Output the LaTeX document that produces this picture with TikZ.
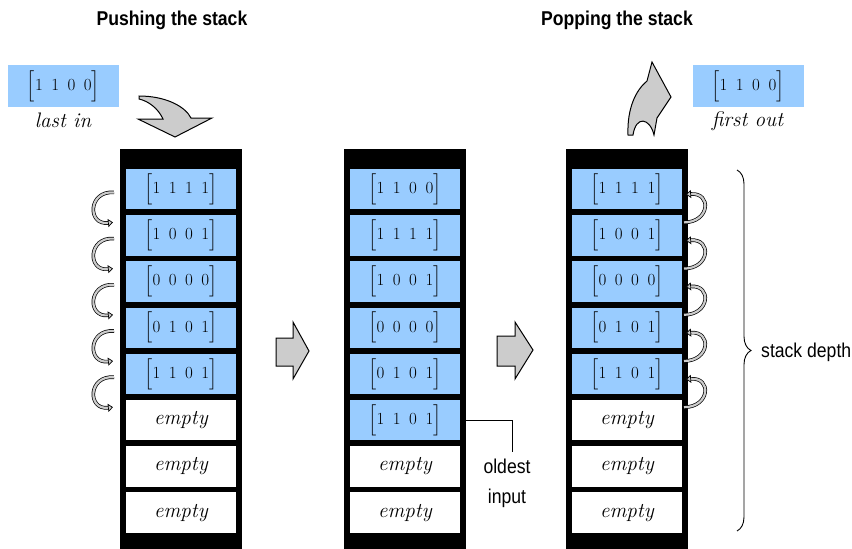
\RequirePackage{fix-cm}
\documentclass[tikz,border=0pt]{standalone}
\usepackage{amsmath}
\usepackage{fontspec}
\usepackage{tikz}
\usetikzlibrary{arrows.meta,positioning,decorations.pathreplacing}
\newfontfamily\condfont[FakeStretch=0.88]{Liberation Sans}
\definecolor{cellblue}{RGB}{153,204,255}
\definecolor{arrgray}{RGB}{204,204,204}
\newcommand{\bits}[4]{$\left[\vrule height 19pt depth 9pt width 0pt #1\enspace #2\enspace #3\enspace #4\right]$}

\begin{document}
\begin{tikzpicture}[
  x=1pt, y=-1pt,
  stackbox/.style={fill=black, minimum width=122pt, minimum height=400pt,
    inner sep=0pt, outer sep=0pt},
  cell/.style={fill=cellblue, minimum width=110pt, minimum height=40.4pt,
    inner sep=0pt, outer sep=0pt, font=\fontsize{17}{20}\selectfont},
  freecell/.style={cell, fill=white, font=\fontsize{21}{24}\selectfont\itshape},
  tagbox/.style={fill=cellblue, minimum width=111pt, minimum height=42pt,
    inner sep=0pt, font=\fontsize{17}{20}\selectfont},
  lbl/.style={font=\fontsize{21}{24}\selectfont\itshape, inner sep=0pt},
  title/.style={font=\condfont\bfseries\fontsize{20}{24}\selectfont, inner sep=0pt},
  note/.style={font=\condfont\fontsize{20}{30}\selectfont, inner sep=0pt, align=center},
  bigarr/.style={fill=arrgray, draw=black, line width=1pt, line join=miter},
  smallarr/.style={draw=black, line width=0.7pt, double=arrgray, double distance=2.2pt,
    -{Triangle[length=5pt, width=8pt, fill=arrgray]}}
]
\useasboundingbox (0,0) rectangle (852,549);

% titles
\node[title, anchor=base] (pushtitle) at (172,25) {Pushing the stack};
\node[title, anchor=base] (poptitle) at (617,25.5) {Popping the stack};

% pushing
\node[tagbox] (lastin) at (63.5,86) {\bits1100};
\node[lbl] (lastinlbl) at (63,120) {last in};
\node[stackbox] (Lstack) at (181,349) {};
\node[cell] (L1) at (181,189.2) {\bits1111};
\node[cell, below=5.8pt of L1] (L2) {\bits1001};
\node[cell, below=5.8pt of L2] (L3) {\bits0000};
\node[cell, below=5.8pt of L3] (L4) {\bits0101};
\node[cell, below=5.8pt of L4] (L5) {\bits1101};
\node[freecell, below=5.8pt of L5] (L6) {empty};
\node[freecell, below=5.8pt of L6] (L7) {empty};
\node[freecell, below=5.8pt of L7] (L8) {empty};
\filldraw[bigarr] (139,96) .. controls (165,96) and (185,106) .. (191,118)
  -- (212,118) -- (175,137) -- (138,119) -- (163,119)
  .. controls (158,108) and (148,101) .. (139,99) -- cycle;
\draw[smallarr] ([shift={(-12,-17)}]L1.south west) .. controls +(-26,-2) and +(-26,3) .. ([shift={(-13,13)}]L1.south west);
\draw[smallarr] ([shift={(-12,-17)}]L2.south west) .. controls +(-26,-2) and +(-26,3) .. ([shift={(-13,13)}]L2.south west);
\draw[smallarr] ([shift={(-12,-17)}]L3.south west) .. controls +(-26,-2) and +(-26,3) .. ([shift={(-13,13)}]L3.south west);
\draw[smallarr] ([shift={(-12,-17)}]L4.south west) .. controls +(-26,-2) and +(-26,3) .. ([shift={(-13,13)}]L4.south west);
\draw[smallarr] ([shift={(-12,-17)}]L5.south west) .. controls +(-26,-2) and +(-26,3) .. ([shift={(-13,13)}]L5.south west);
\filldraw[bigarr] (276,338) -- (293,338) -- (293,322) -- (309,351)
  -- (293,379) -- (293,366) -- (276,366) -- cycle;

% after the push
\node[stackbox] (Mstack) at (405,349) {};
\node[cell] (M1) at (405,189.2) {\bits1100};
\node[cell, below=5.8pt of M1] (M2) {\bits1111};
\node[cell, below=5.8pt of M2] (M3) {\bits1001};
\node[cell, below=5.8pt of M3] (M4) {\bits0000};
\node[cell, below=5.8pt of M4] (M5) {\bits0101};
\node[cell, below=5.8pt of M5] (M6) {\bits1101};
\node[freecell, below=5.8pt of M6] (M7) {empty};
\node[freecell, below=5.8pt of M7] (M8) {empty};
\draw[line width=1pt] ([xshift=6pt]M6.east) -- ++(46,0) -- ++(0,32) coordinate (oldend);
\node[note, anchor=north] (oldest) at (507,459) {oldest\\input};
\filldraw[bigarr] (497,336) -- (515,336) -- (515,322) -- (533,350)
  -- (515,379) -- (515,366) -- (497,366) -- cycle;

% popping
\node[stackbox] (Rstack) at (627,349) {};
\node[cell] (R1) at (627,189.2) {\bits1111};
\node[cell, below=5.8pt of R1] (R2) {\bits1001};
\node[cell, below=5.8pt of R2] (R3) {\bits0000};
\node[cell, below=5.8pt of R3] (R4) {\bits0101};
\node[cell, below=5.8pt of R4] (R5) {\bits1101};
\node[freecell, below=5.8pt of R5] (R6) {empty};
\node[freecell, below=5.8pt of R6] (R7) {empty};
\node[freecell, below=5.8pt of R7] (R8) {empty};
\filldraw[bigarr] (628,135) .. controls (627,108) and (636,90) .. (647,81)
  -- (652,62) -- (671,97) -- (657,118) -- (654,135)
  .. controls (650,118) and (636,115) .. (633,135) -- cycle;
\node[tagbox] (firstout) at (748,86) {\bits1100};
\node[lbl] (firstoutlbl) at (747.5,121) {first out};
\draw[smallarr] ([shift={(2,13)}]R1.south east) .. controls +(26,0) and +(26,-2) .. ([shift={(4,-15)}]R1.south east);
\draw[smallarr] ([shift={(2,13)}]R2.south east) .. controls +(26,0) and +(26,-2) .. ([shift={(4,-15)}]R2.south east);
\draw[smallarr] ([shift={(2,13)}]R3.south east) .. controls +(26,0) and +(26,-2) .. ([shift={(4,-15)}]R3.south east);
\draw[smallarr] ([shift={(2,13)}]R4.south east) .. controls +(26,0) and +(26,-2) .. ([shift={(4,-15)}]R4.south east);
\draw[smallarr] ([shift={(2,13)}]R5.south east) .. controls +(26,0) and +(26,-2) .. ([shift={(4,-15)}]R5.south east);
\coordinate (dtop) at (737,170);
\coordinate (dbot) at (737,531);
\draw[line width=0.9pt, decorate, decoration={brace, amplitude=14pt}] (dtop) -- (dbot);
\node[note, anchor=base west] (depth) at (761,357) {stack depth};
\end{tikzpicture}
\end{document}
